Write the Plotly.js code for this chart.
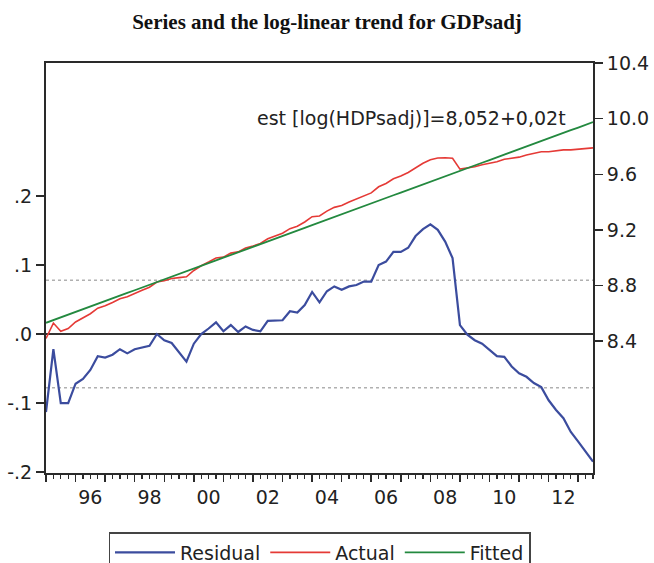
<!DOCTYPE html>
<html>
<head>
<meta charset="utf-8">
<script src="https://cdn.plot.ly/plotly-3.0.1.min.js"></script>
<style>html,body{margin:0;padding:0;background:#fff;}#chart{width:654px;height:563px;}</style>
</head>
<body>
<div id="chart"></div>
<script>
// Quarterly sample 1995Q1 - 2013Q3
const startYear = 1995;
const periodsPerYear = 4;

// Residual (left axis)
const residual = [-0.113,-0.022,-0.100,-0.100,-0.072,-0.065,-0.052,-0.032,-0.034,-0.030,
  -0.022,-0.028,-0.022,-0.020,-0.017,0.000,-0.009,-0.013,-0.026,-0.040,
  -0.014,0.000,0.008,0.017,0.004,0.013,0.003,0.011,0.006,0.004,
  0.019,0.019,0.020,0.033,0.031,0.042,0.061,0.046,0.062,0.069,
  0.064,0.069,0.071,0.076,0.076,0.100,0.105,0.119,0.119,0.125,
  0.142,0.152,0.159,0.151,0.134,0.110,0.013,-0.001,-0.009,-0.014,
  -0.023,-0.032,-0.033,-0.047,-0.057,-0.062,-0.071,-0.077,-0.096,-0.110,
  -0.122,-0.142,-0.156,-0.171,-0.185];

// Actual log(GDPsadj) (right axis)
const actual = [8.419,8.530,8.471,8.491,8.538,8.565,8.597,8.637,8.654,8.678,
  8.705,8.719,8.744,8.766,8.788,8.825,8.835,8.851,8.857,8.863,
  8.908,8.942,8.969,8.998,9.004,9.033,9.042,9.070,9.084,9.102,
  9.136,9.156,9.176,9.209,9.226,9.257,9.295,9.300,9.335,9.362,
  9.376,9.401,9.422,9.447,9.466,9.510,9.534,9.568,9.587,9.613,
  9.649,9.679,9.705,9.717,9.719,9.715,9.637,9.643,9.654,9.669,
  9.679,9.690,9.708,9.714,9.723,9.738,9.748,9.762,9.762,9.768,
  9.775,9.775,9.780,9.785,9.790];

// Fitted log-linear trend (right axis)
const fitted = [8.532,8.552,8.571,8.591,8.610,8.630,8.649,8.669,8.688,8.708,
  8.727,8.747,8.766,8.786,8.805,8.825,8.844,8.864,8.883,8.903,
  8.922,8.942,8.961,8.981,9.000,9.020,9.039,9.059,9.078,9.098,
  9.117,9.137,9.156,9.176,9.195,9.215,9.234,9.254,9.273,9.293,
  9.312,9.332,9.351,9.371,9.390,9.410,9.429,9.449,9.468,9.488,
  9.507,9.527,9.546,9.566,9.585,9.605,9.624,9.644,9.663,9.683,
  9.702,9.722,9.741,9.761,9.780,9.800,9.819,9.839,9.858,9.878,
  9.897,9.917,9.936,9.956,9.975];

// Residual standard error band
const bandValue = 0.078;

// Axis ticks and labels
const yearTicks = [1995,1996,1997,1998,1999,2000,2001,2002,2003,2004,2005,2006,2007,2008,2009,2010,2011,2012,2013];
const labelYears = [1996,1998,2000,2002,2004,2006,2008,2010,2012];
const yearLabels = ['96','98','00','02','04','06','08','10','12'];
const leftTicks = [-0.2,-0.1,0,0.1,0.2];
const leftLabels = ['-.2','-.1','.0','.1','.2'];
const rightTicks = [8.4,8.8,9.2,9.6,10.0,10.4];
const rightLabels = ['8.4','8.8','9.2','9.6','10.0','10.4'];

const titleText = 'Series and the log-linear trend for GDPsadj';
const equationText = 'est [log(HDPsadj)]=8,052+0,02t';

const xq = residual.map((_, i) => startYear + i / periodsPerYear);
const xRange = [startYear, startYear + (residual.length - 1) / periodsPerYear];
// labels sit in the middle of each year
const labelPos = labelYears.map(y => y + 0.5);

const font = 'DejaVu Sans, Arial, sans-serif';
const axisColor = '#2a2a2a';
const tickFont = {family: font, size: 19, color: '#222'};

const traces = [
  {x: xq, y: residual, name: 'Residual', type: 'scatter', mode: 'lines',
   line: {color: '#3b4c9e', width: 2.2}, xaxis: 'x', yaxis: 'y'},
  {x: xq, y: actual, name: 'Actual', type: 'scatter', mode: 'lines',
   line: {color: '#e53a36', width: 1.6}, xaxis: 'x2', yaxis: 'y2'},
  {x: xq, y: fitted, name: 'Fitted', type: 'scatter', mode: 'lines',
   line: {color: '#23893f', width: 1.8}, xaxis: 'x2', yaxis: 'y2'}
];

const layout = {
  width: 654, height: 563,
  margin: {l: 46, r: 61, t: 63, b: 90, autoexpand: false},
  paper_bgcolor: '#fff', plot_bgcolor: '#fff',
  showlegend: true,
  title: {text: titleText, x: 0.5, xanchor: 'center', xref: 'container',
          y: 1 - 22 / 563, yref: 'container', yanchor: 'middle',
          font: {family: 'Liberation Serif, Times New Roman, serif', size: 21, color: '#111', weight: 'bold'}},
  font: {family: font, size: 19, color: '#222'},
  xaxis: {
    range: xRange, anchor: 'y',
    tickmode: 'array', tickvals: yearTicks, ticktext: yearTicks.map(() => ''),
    ticks: 'outside', ticklen: 7, tickwidth: 1.5, tickcolor: axisColor,
    minor: {tickmode: 'linear', tick0: startYear, dtick: 1 / periodsPerYear, ticks: 'outside', ticklen: 4, tickwidth: 1.2, tickcolor: axisColor, showgrid: false},
    showline: true, linecolor: axisColor, linewidth: 2, mirror: true,
    showgrid: false, zeroline: false,
    tickfont: tickFont
  },
  xaxis2: {
    range: xRange, overlaying: 'x', anchor: 'y2', side: 'bottom',
    tickmode: 'array', tickvals: labelPos, ticktext: yearLabels,
    ticks: 'outside', ticklen: 7, tickcolor: 'rgba(0,0,0,0)',
    showline: false, showgrid: false, zeroline: false,
    tickfont: tickFont
  },
  yaxis: {
    range: [-0.2014, 0.3928], anchor: 'x',
    tickmode: 'array', tickvals: leftTicks, ticktext: leftLabels,
    ticks: 'outside', ticklen: 8, tickwidth: 1.5, tickcolor: axisColor,
    showline: true, linecolor: axisColor, linewidth: 2,
    showgrid: false,
    zeroline: true, zerolinecolor: '#333', zerolinewidth: 2,
    tickfont: tickFont
  },
  yaxis2: {
    range: [7.452, 10.4], overlaying: 'y', side: 'right', anchor: 'x2',
    tickmode: 'array', tickvals: rightTicks, ticktext: rightLabels,
    ticks: 'outside', ticklen: 8, tickwidth: 1.5, tickcolor: axisColor,
    showline: true, linecolor: axisColor, linewidth: 2,
    showgrid: false, zeroline: false,
    tickfont: tickFont
  },
  shapes: [bandValue, -bandValue].map(v => ({
    type: 'line', xref: 'paper', x0: 0, x1: 1, yref: 'y', y0: v, y1: v,
    line: {color: '#b0b0b0', width: 1.5, dash: 'dot'}, layer: 'below'
  })),
  annotations: [{
    text: equationText, xref: 'paper', yref: 'paper',
    x: (255 - 46) / 547, xanchor: 'left', y: (473 - 118) / 410, yanchor: 'middle',
    showarrow: false, font: {family: font, size: 19, color: '#222'}
  }],
  legend: {
    orientation: 'h', x: 0.5, xanchor: 'center', y: -0.144, yanchor: 'top',
    bordercolor: '#444', borderwidth: 1.5, bgcolor: '#fff',
    font: {family: font, size: 19, color: '#222'},
    itemwidth: 60, traceorder: 'normal'
  }
};

Plotly.newPlot('chart', traces, layout, {staticPlot: true, displayModeBar: false});
</script>
</body>
</html>
